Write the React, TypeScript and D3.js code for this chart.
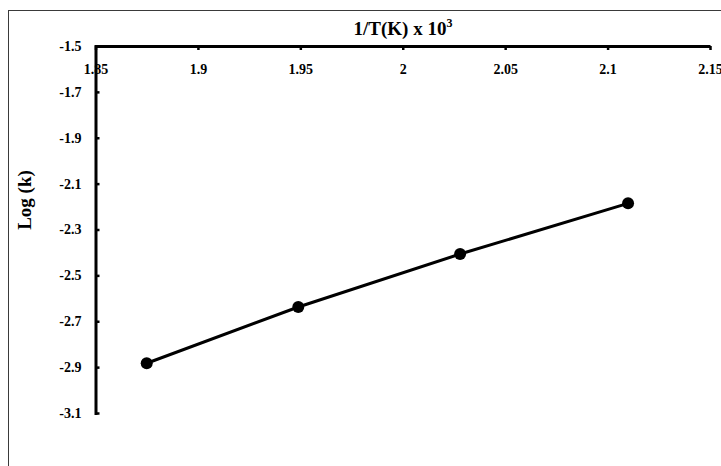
import { useEffect, useRef } from 'react';
import * as d3 from 'd3';

// 1/T(K) x 10^3 and Log(k)
const invTemp = [1.875, 1.949, 2.028, 2.11];
const logK = [-2.883, -2.638, -2.407, -2.186];

const xTicks = [1.85, 1.9, 1.95, 2, 2.05, 2.1, 2.15];
const yTicks = [-1.5, -1.7, -1.9, -2.1, -2.3, -2.5, -2.7, -2.9, -3.1];

const WIDTH = 721;
const HEIGHT = 466;
const FONT = '"Liberation Serif", "Times New Roman", serif';

export default function App() {
  const svgRef = useRef<SVGSVGElement>(null);

  useEffect(() => {
    if (!svgRef.current) return;
    const svg = d3.select(svgRef.current);
    svg.selectAll('*').remove();

    const x = d3.scaleLinear().domain([1.85, 2.15]).range([95.5, 710]);
    const y = d3.scaleLinear().domain([-1.5, -3.1]).range([46, 413]);

    // outer frame (runs off the right and bottom edges like the reference)
    svg.append('rect')
      .attr('x', 8.5)
      .attr('y', 10.5)
      .attr('width', 800)
      .attr('height', 500)
      .attr('fill', '#fff')
      .attr('stroke', '#3a3a3a')
      .attr('stroke-width', 1);

    // x axis along the top, ticks pointing down into the plot
    const xAxis = svg.append('g')
      .attr('transform', `translate(0, ${y(-1.5)})`)
      .call(d3.axisBottom(x).tickValues(xTicks).tickSizeInner(4).tickSizeOuter(0).tickFormat(d => String(d)));
    xAxis.select('.domain').attr('stroke', '#000').attr('stroke-width', 3);
    xAxis.selectAll('.tick line').attr('stroke', '#000').attr('stroke-width', 2.5);
    xAxis.selectAll('.tick text')
      .attr('y', 28)
      .attr('dy', 0)
      .attr('font-family', FONT)
      .attr('font-size', 14)
      .attr('font-weight', 'bold')
      .attr('fill', '#000');

    // y axis, ticks pointing right into the plot
    const yAxis = svg.append('g')
      .attr('transform', `translate(${x(1.85)}, 0)`)
      .call(d3.axisLeft(y).tickValues(yTicks).tickSizeInner(-4).tickSizeOuter(0).tickFormat(d => String(d)));
    yAxis.select('.domain').attr('stroke', '#000').attr('stroke-width', 3).attr('stroke-linecap', 'square');
    yAxis.selectAll('.tick line').attr('stroke', '#000').attr('stroke-width', 2.5);
    yAxis.selectAll('.tick text')
      .attr('x', -14)
      .attr('font-family', FONT)
      .attr('font-size', 14)
      .attr('font-weight', 'bold')
      .attr('fill', '#000');

    // axis titles
    const title = svg.append('text')
      .attr('x', 403)
      .attr('y', 35)
      .attr('text-anchor', 'middle')
      .attr('font-family', FONT)
      .attr('font-size', 19)
      .attr('font-weight', 'bold')
      .text('1/T(K) x 10');
    title.append('tspan')
      .attr('dy', -8)
      .attr('font-size', 12)
      .text('3');

    svg.append('text')
      .attr('transform', `translate(31, 200) rotate(-90)`)
      .attr('text-anchor', 'middle')
      .attr('font-family', FONT)
      .attr('font-size', 19)
      .attr('font-weight', 'bold')
      .text('Log (k)');

    const pts = invTemp.map((v, i) => [v, logK[i]] as [number, number]);

    const line = d3.line<[number, number]>()
      .x(d => x(d[0]))
      .y(d => y(d[1]));

    svg.append('path')
      .datum(pts)
      .attr('d', line)
      .attr('fill', 'none')
      .attr('stroke', '#000')
      .attr('stroke-width', 3);

    svg.selectAll('.pt')
      .data(pts)
      .enter()
      .append('circle')
      .attr('class', 'pt')
      .attr('cx', d => x(d[0]))
      .attr('cy', d => y(d[1]))
      .attr('r', 6)
      .attr('fill', '#000');
  }, []);

  return (
    <svg
      ref={svgRef}
      width={WIDTH}
      height={HEIGHT}
      style={{ position: 'absolute', left: 0, top: 0, display: 'block' }}
    />
  );
}
